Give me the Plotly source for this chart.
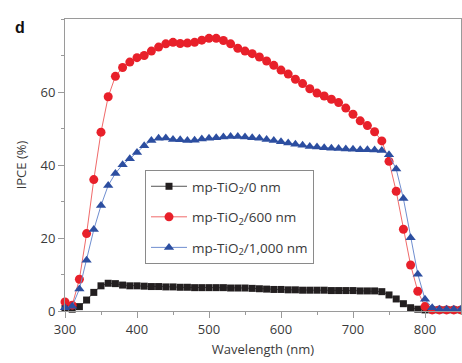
import plotly.graph_objects as go

wavelength = [300, 310, 320, 330, 340, 350, 360, 370, 380, 390,
              400, 410, 420, 430, 440, 450, 460, 470, 480, 490,
              500, 510, 520, 530, 540, 550, 560, 570, 580, 590,
              600, 610, 620, 630, 640, 650, 660, 670, 680, 690,
              700, 710, 720, 730, 740, 750, 760, 770, 780, 790,
              800, 810, 820, 830, 840, 850]

ipce_0nm = [0.7, 0.5, 1.2, 3.0, 5.1, 6.9, 7.6, 7.5, 7.1, 6.9,
            6.9, 6.8, 6.7, 6.7, 6.6, 6.6, 6.5, 6.5, 6.4, 6.4,
            6.4, 6.4, 6.4, 6.3, 6.3, 6.3, 6.2, 6.1, 6.0, 5.9,
            5.9, 5.8, 5.8, 5.7, 5.7, 5.7, 5.7, 5.6, 5.6, 5.6,
            5.6, 5.5, 5.5, 5.5, 5.3, 4.4, 3.3, 2.0, 0.9, 0.5,
            0.3, 0.3, 0.3, 0.3, 0.3, 0.3]

ipce_600nm = [2.5, 1.6, 8.7, 21.2, 36.0, 49.0, 58.7, 64.3, 66.7, 68.2,
              69.4, 70.0, 71.2, 72.3, 73.2, 73.6, 73.3, 73.4, 73.6, 74.2,
              74.7, 74.7, 74.1, 73.2, 72.0, 71.2, 70.5, 69.6, 68.5, 67.3,
              66.0, 64.9, 63.5, 62.3, 60.9, 59.7, 58.9, 58.0, 57.1, 55.6,
              53.9, 52.1, 50.8, 49.1, 46.6, 41.0, 32.8, 22.4, 12.6, 5.4,
              1.2, 0.3, 0.3, 0.3, 0.3, 0.3]

ipce_1000nm = [0.9, 1.3, 6.0, 13.9, 22.3, 28.9, 34.4, 37.7, 40.1, 41.7,
               43.4, 45.3, 46.7, 47.3, 47.4, 47.0, 46.9, 46.7, 46.8, 47.1,
               47.3, 47.5, 47.7, 47.8, 47.8, 47.7, 47.5, 47.3, 47.0, 46.7,
               46.4, 46.0, 45.7, 45.4, 45.1, 44.9, 44.7, 44.6, 44.5, 44.4,
               44.3, 44.2, 44.2, 44.1, 44.0, 42.8, 38.9, 30.8, 20.1, 10.1,
               3.2, 0.9, 0.5, 0.5, 0.5, 0.5]

series_names = ["mp-TiO<sub>2</sub>/0 nm",
                "mp-TiO<sub>2</sub>/600 nm",
                "mp-TiO<sub>2</sub>/1,000 nm"]

x_ticks = [300, 400, 500, 600, 700, 800]
y_ticks = [0, 20, 40, 60]

FONT = "Open Sans"
TXT = "#3a3a3a"

fig = go.Figure()
fig.add_trace(go.Scatter(
    x=wavelength, y=ipce_0nm, name=series_names[0], mode="lines+markers",
    legendgroup="a", cliponaxis=False,
    line=dict(color="#555555", width=1),
    marker=dict(symbol="square", size=7, color="#231f20")))
fig.add_trace(go.Scatter(
    x=wavelength, y=ipce_600nm, name=series_names[1], mode="lines+markers",
    legendgroup="b", cliponaxis=False,
    line=dict(color="#f06a6a", width=1),
    marker=dict(symbol="circle", size=9, color="#e8202a")))
fig.add_trace(go.Scatter(
    x=wavelength, y=ipce_1000nm, name=series_names[2], mode="lines+markers",
    legendgroup="c", cliponaxis=False,
    line=dict(color="#6f8ed0", width=1),
    marker=dict(symbol="triangle-up", size=9, color="#2c4ea0")))

axis_common = dict(
    showline=True, linecolor="#9a9a9a", linewidth=1, mirror=True,
    showgrid=False, zeroline=False,
    ticks="outside", ticklen=6, tickcolor="#9a9a9a", tickwidth=1,
    tickfont=dict(family=FONT, size=13, color=TXT),
)

fig.update_xaxes(
    range=[300, 850], tickvals=x_ticks,
    minor=dict(dtick=50, tick0=300, ticks="outside", ticklen=3, tickcolor="#9a9a9a"),
    title=dict(text="Wavelength (nm)", font=dict(family=FONT, size=13, color=TXT), standoff=8),
    **axis_common)
fig.update_yaxes(
    range=[0, 80], tickvals=y_ticks,
    minor=dict(dtick=10, tick0=0, ticks="outside", ticklen=3, tickcolor="#9a9a9a"),
    title=dict(text="IPCE (%)", font=dict(family=FONT, size=13, color=TXT), standoff=10),
    **axis_common)

fig.add_annotation(text="<b>d</b>", xref="paper", yref="paper",
                   x=(20 - 65) / 396, y=(311 - 27) / 292,
                   xanchor="center", yanchor="middle",
                   showarrow=False, font=dict(family="Liberation Sans", size=16, color="#111"))

fig.update_layout(
    width=462, height=363,
    margin=dict(l=65, r=1, t=19, b=52),
    plot_bgcolor="white", paper_bgcolor="white",
    font=dict(family=FONT, size=13, color=TXT),
    legend=dict(
        x=(145 - 65) / 396, y=(311 - 170) / 292, xanchor="left", yanchor="top",
        bordercolor="#8a8a8a", borderwidth=1, bgcolor="white",
        font=dict(family=FONT, size=13.5, color=TXT),
        tracegroupgap=10, itemwidth=36,
    ),
)

fig.write_html("out.html", config={"displayModeBar": False},
               post_script="document.body.style.margin='0px';")
